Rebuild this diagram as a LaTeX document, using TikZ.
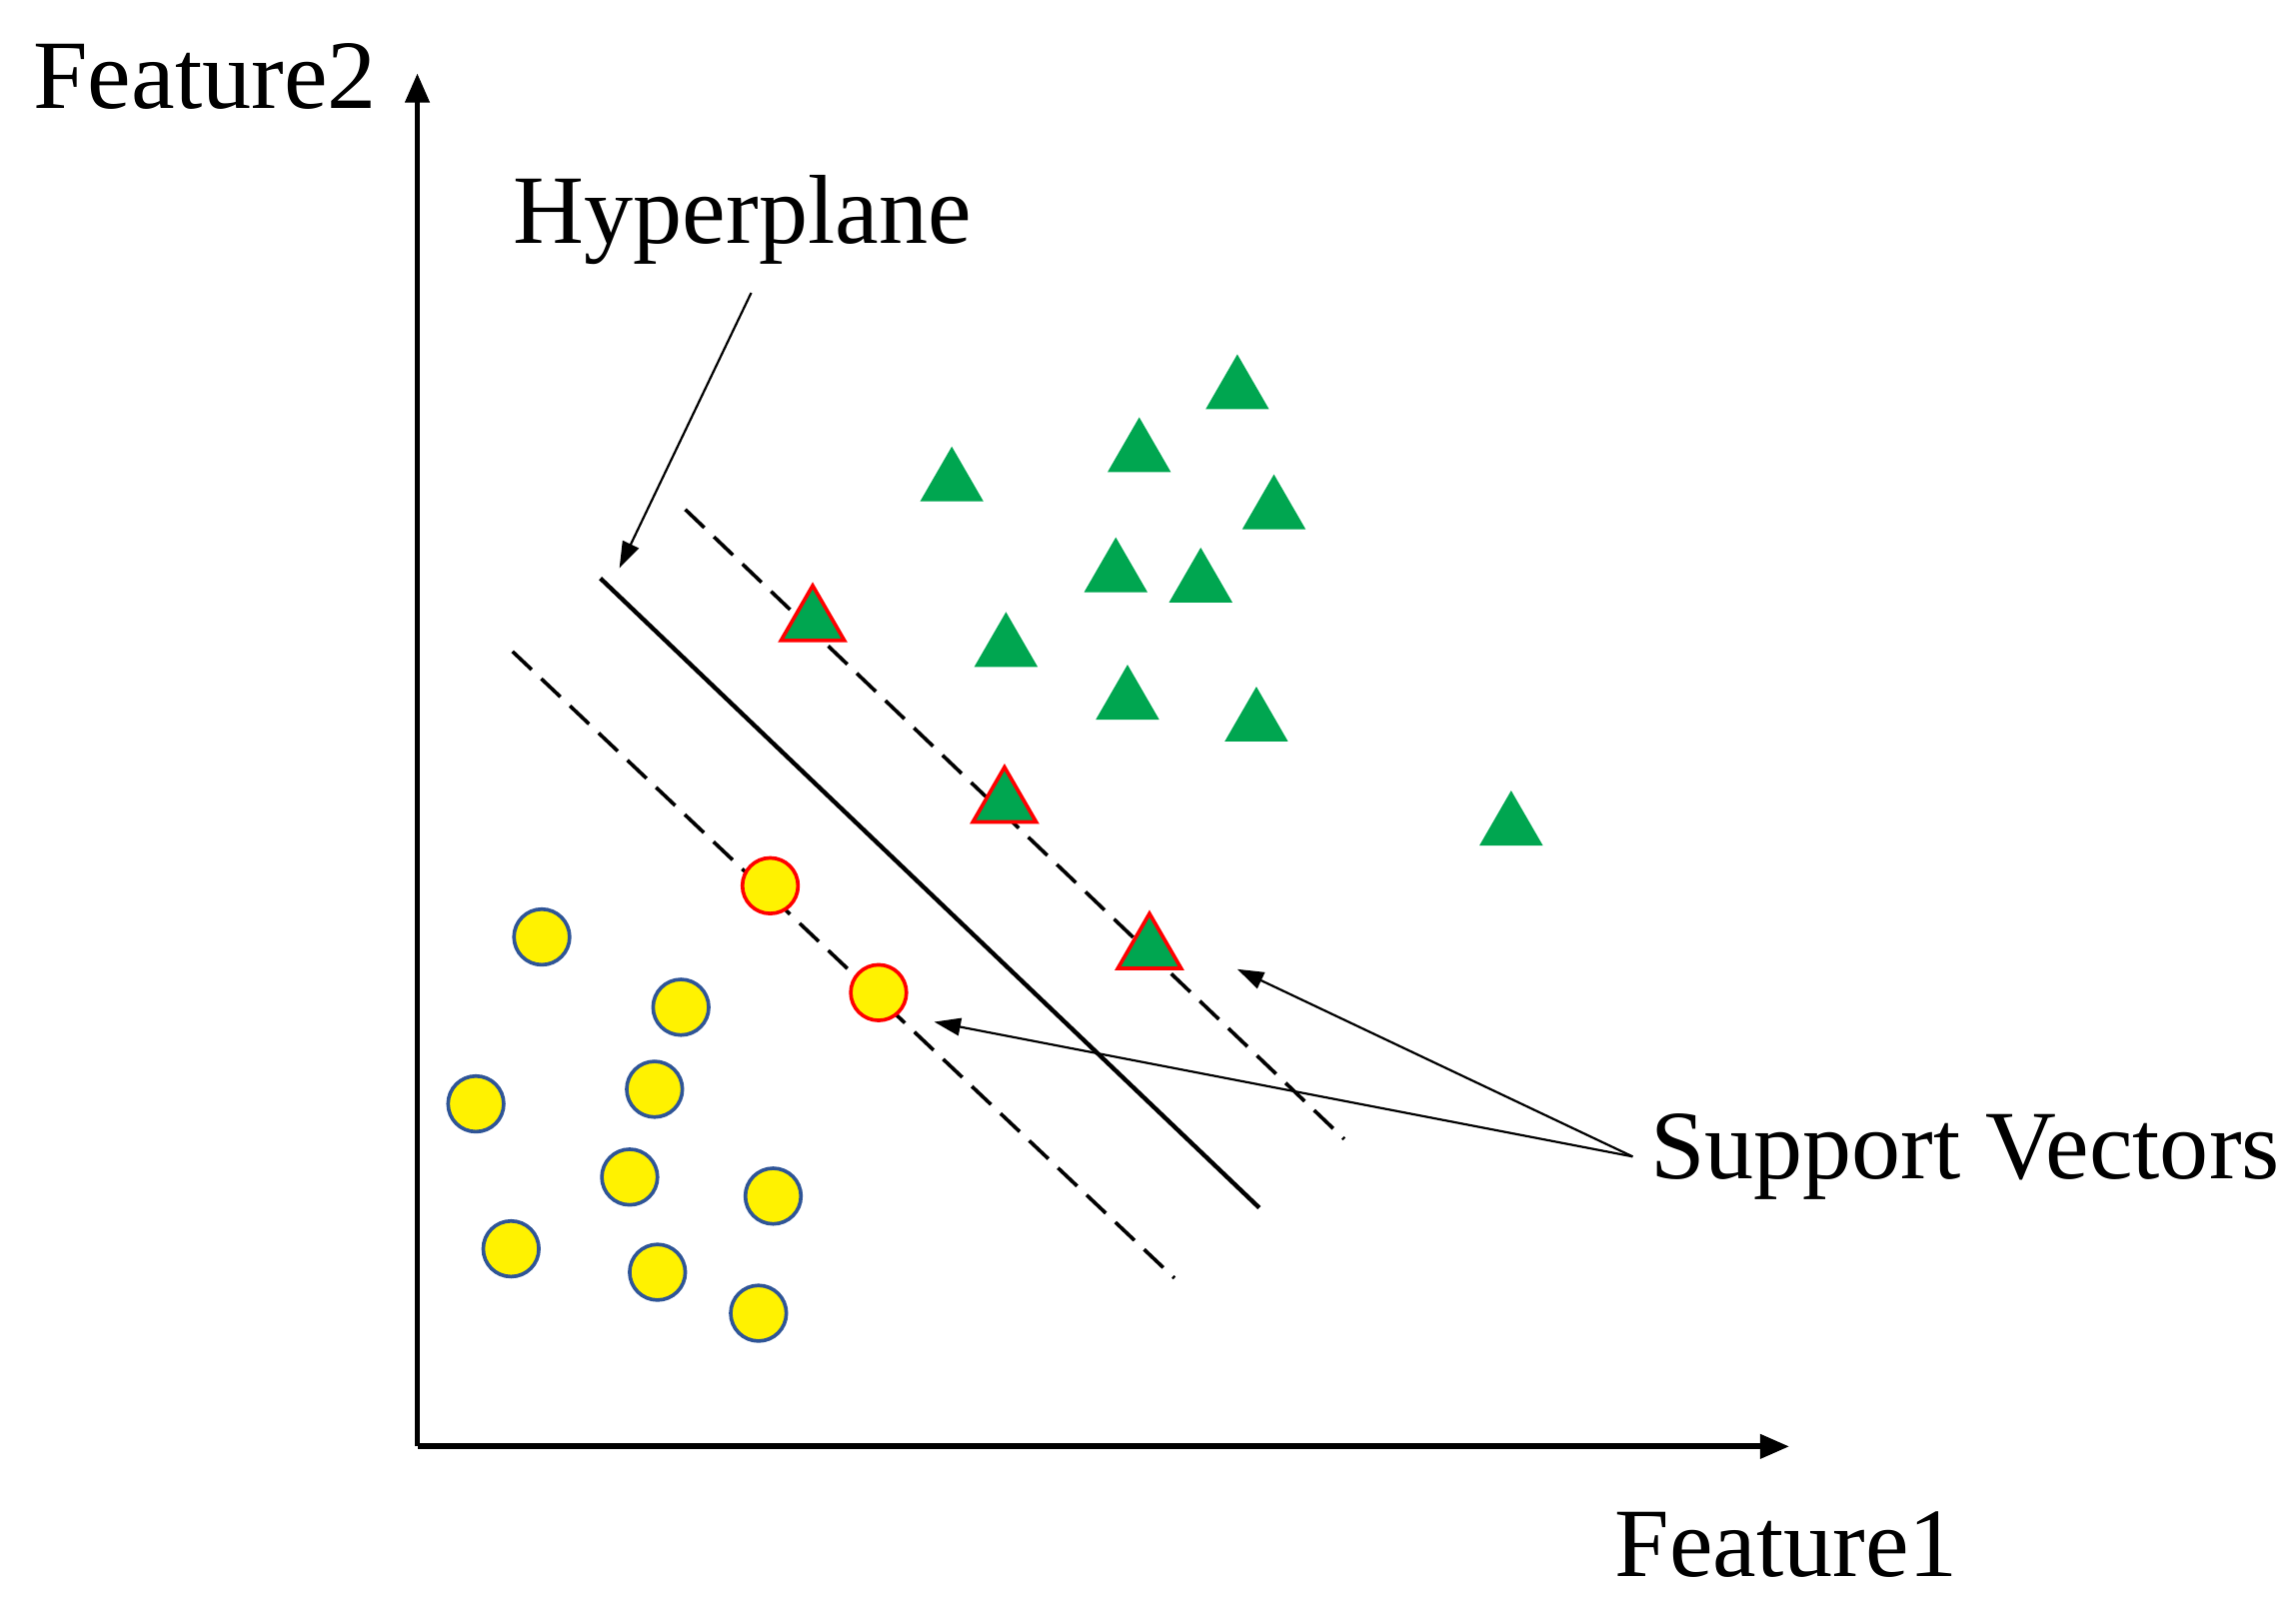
\documentclass[tikz,border=0pt]{standalone}
\usepackage{fontspec}
\setmainfont{Liberation Serif}
\usetikzlibrary{arrows.meta,shapes.geometric}
\definecolor{tg}{RGB}{0,166,80}
\definecolor{cy}{RGB}{255,242,0}
\definecolor{cb}{RGB}{47,85,151}
\begin{document}
\begin{tikzpicture}[x=1pt,y=-1pt,
  lbl/.style={font=\fontsize{67}{72}\selectfont,inner sep=0pt},
  tri/.style={regular polygon,regular polygon sides=3,fill=tg,draw=none,minimum size=50pt,inner sep=0pt},
  stri/.style={tri,draw=red,line width=2.5pt},
  circ/.style={circle,fill=cy,draw=cb,line width=2.5pt,minimum size=38pt,inner sep=0pt},
  scirc/.style={circ,draw=red,line width=2.5pt},
  ax/.style={line width=4pt,-{Triangle[length=20pt,width=16pt]}},
  arr/.style={line width=1.5pt,-{Triangle[length=18pt,width=12pt]}},
  dsh/.style={line width=2.5pt,dash pattern=on 18pt off 9pt}]
\useasboundingbox (0,0) rectangle (1568,1098);
\coordinate (o) at (285,988);
\coordinate (ytop) at (285,50);
\coordinate (xend) at (1222,988);
\draw[ax] (o) -- (ytop);
\draw[ax] (o) -- (xend);
\node[lbl] (f2) at (140,52) {Feature2};
\node[lbl] (f1) at (1220,1055) {Feature1};
\node[lbl] (hp) at (507,150) {Hyperplane};
\node[lbl] (sv) at (1342,790) {Support Vectors};
\coordinate (h1) at (410,395); \coordinate (h2) at (860,825);
\coordinate (u1) at (468,348); \coordinate (u2) at (918,778);
\coordinate (l1) at (350,445); \coordinate (l2) at (802,873);
\draw[line width=3pt] (h1) -- (h2);
\draw[dsh] (u1) -- (u2);
\draw[dsh] (l1) -- (l2);
\foreach \p [count=\i] in {(845,267),(778,310),(650,330),(870,349),(762,392),(820,399),(687,443),(770,479),(858,494),(1032,565)}
  \node[tri] (t\i) at \p {};
\foreach \p [count=\i] in {(555,425),(686,549),(785,649)}
  \node[stri] (st\i) at \p {};
\foreach \p [count=\i] in {(370,640),(465,688),(325,754),(447,744),(430,804),(528,817),(349,853),(449,869),(518,897)}
  \node[circ] (c\i) at \p {};
\node[scirc] (sc1) at (526,605) {};
\node[scirc] (sc2) at (600,678) {};
\coordinate (hpa) at (513,200); \coordinate (hpb) at (423,388);
\draw[arr] (hpa) -- (hpb);
\coordinate (sva) at (1115,790);
\coordinate (svb) at (845,662);
\coordinate (svc) at (638,698);
\draw[arr] (sva) -- (svb);
\draw[arr] (sva) -- (svc);
\end{tikzpicture}
\end{document}
